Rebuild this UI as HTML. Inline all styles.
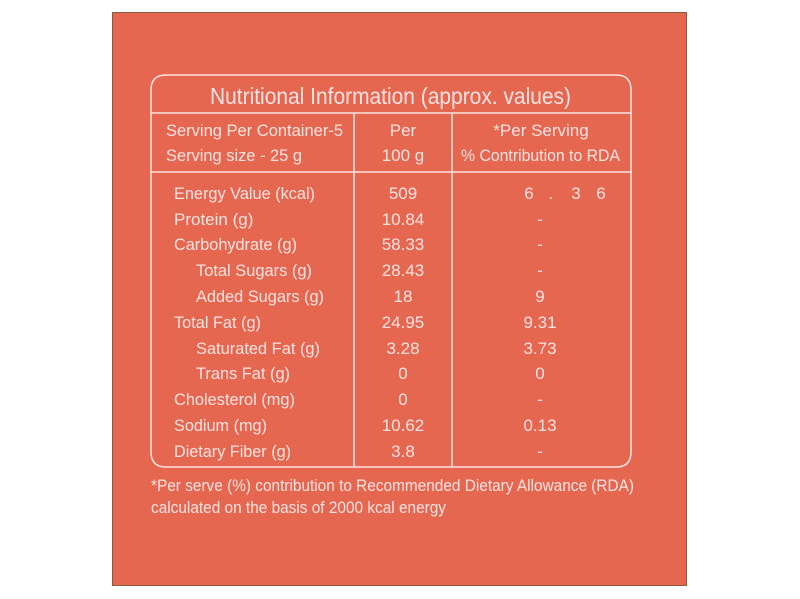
<!DOCTYPE html>
<html><head><meta charset="utf-8"><style>
html,body{margin:0;padding:0;background:#fff;width:800px;height:599px;overflow:hidden}
svg{display:block}
text{font-family:"Liberation Sans",Arial,sans-serif;fill:#fde3e3}
</style></head><body>
<svg width="800" height="599" viewBox="0 0 800 599">
<rect x="112.5" y="12.5" width="574" height="573" fill="#e6674f" stroke="#8a5a40" stroke-width="1"/>
<path d="M151 452 V90 Q151 75 166 75 H616 Q631 75 631 90 V452 Q631 467 616 467 H166 Q151 467 151 452 Z" fill="none" stroke="#fde3e3" stroke-width="1.5"/>
<line x1="151" y1="113" x2="631" y2="113" stroke="#fde3e3" stroke-width="1.5"/>
<line x1="151" y1="172" x2="631" y2="172" stroke="#fde3e3" stroke-width="1.5"/>
<line x1="354" y1="113" x2="354" y2="467" stroke="#fde3e3" stroke-width="1.5"/>
<line x1="452" y1="113" x2="452" y2="467" stroke="#fde3e3" stroke-width="1.5"/>
<text x="210" y="104" font-size="23" textLength="361" lengthAdjust="spacingAndGlyphs">Nutritional Information (approx. values)</text>
<g font-size="17">
<text x="166" y="136" textLength="177" lengthAdjust="spacingAndGlyphs">Serving Per Container-5</text>
<text x="166" y="161" textLength="136" lengthAdjust="spacingAndGlyphs">Serving size - 25 g</text>
<text x="403" y="136" text-anchor="middle">Per</text>
<text x="403" y="161" text-anchor="middle">100 g</text>
<text x="541" y="136" text-anchor="middle">*Per Serving</text>
<text x="461" y="161" textLength="159" lengthAdjust="spacingAndGlyphs">% Contribution to RDA</text>

<text x="174" y="199" textLength="141" lengthAdjust="spacingAndGlyphs">Energy Value (kcal)</text>
<text x="174" y="225">Protein (g)</text>
<text x="174" y="250" textLength="123" lengthAdjust="spacingAndGlyphs">Carbohydrate (g)</text>
<text x="196" y="276" textLength="116" lengthAdjust="spacingAndGlyphs">Total Sugars (g)</text>
<text x="196" y="302" textLength="128" lengthAdjust="spacingAndGlyphs">Added Sugars (g)</text>
<text x="174" y="328" textLength="87" lengthAdjust="spacingAndGlyphs">Total Fat (g)</text>
<text x="196" y="354" textLength="124" lengthAdjust="spacingAndGlyphs">Saturated Fat (g)</text>
<text x="196" y="379" textLength="94" lengthAdjust="spacingAndGlyphs">Trans Fat (g)</text>
<text x="174" y="405" textLength="121" lengthAdjust="spacingAndGlyphs">Cholesterol (mg)</text>
<text x="174" y="431" textLength="93" lengthAdjust="spacingAndGlyphs">Sodium (mg)</text>
<text x="174" y="457" textLength="117" lengthAdjust="spacingAndGlyphs">Dietary Fiber (g)</text>

<g text-anchor="middle">
<text x="403" y="199">509</text>
<text x="403" y="225">10.84</text>
<text x="403" y="250">58.33</text>
<text x="403" y="276">28.43</text>
<text x="403" y="302">18</text>
<text x="403" y="328">24.95</text>
<text x="403" y="354">3.28</text>
<text x="403" y="379">0</text>
<text x="403" y="405">0</text>
<text x="403" y="431">10.62</text>
<text x="403" y="457">3.8</text>

<text x="529" y="199">6</text><text x="551" y="199">.</text><text x="576" y="199">3</text><text x="601" y="199">6</text>
<text x="540" y="225">-</text>
<text x="540" y="250">-</text>
<text x="540" y="276">-</text>
<text x="540" y="302">9</text>
<text x="540" y="328">9.31</text>
<text x="540" y="354">3.73</text>
<text x="540" y="379">0</text>
<text x="540" y="405">-</text>
<text x="540" y="431">0.13</text>
<text x="540" y="457">-</text>
</g>
<text x="151" y="491" textLength="483" lengthAdjust="spacingAndGlyphs">*Per serve (%) contribution to Recommended Dietary Allowance (RDA)</text>
<text x="151" y="513" textLength="295" lengthAdjust="spacingAndGlyphs">calculated on the basis of 2000 kcal energy</text>
</g>
</svg>
</body></html>
